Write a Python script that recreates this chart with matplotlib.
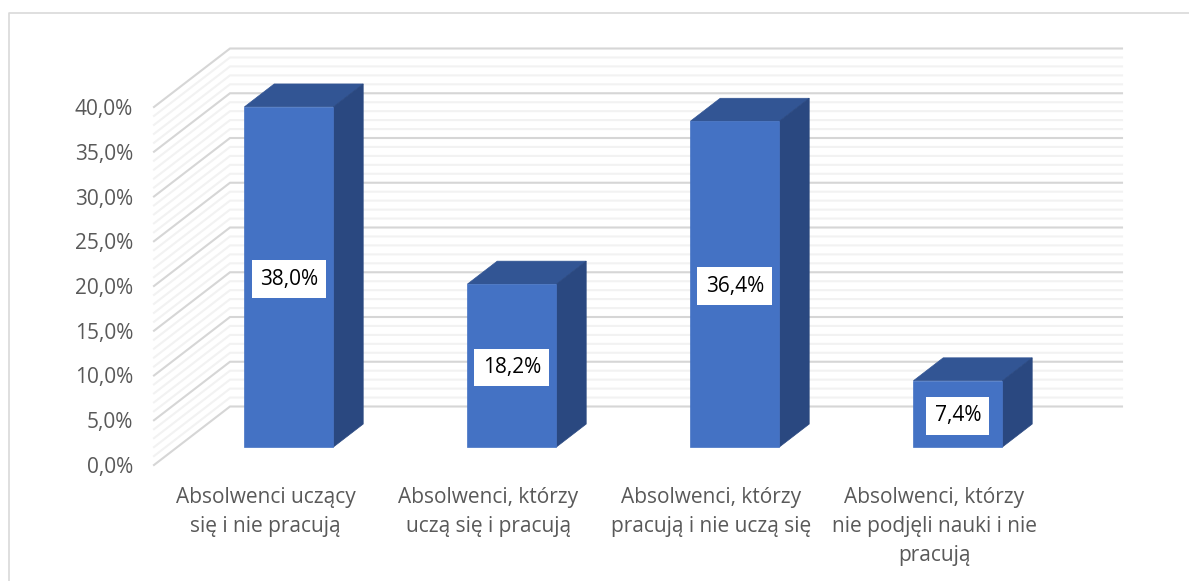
import matplotlib
matplotlib.use("Agg")
from matplotlib import pyplot as plt
from matplotlib.lines import Line2D

categories = [
    "Absolwenci uczący\nsię i nie pracują",
    "Absolwenci, którzy\nuczą się i pracują",
    "Absolwenci, którzy\npracują i nie uczą się",
    "Absolwenci, którzy\nnie podjęli nauki i nie\npracują",
]
values = [38.0, 18.2, 36.4, 7.4]
value_labels = ["38,0%", "18,2%", "36,4%", "7,4%"]
major_ticks = [0, 5, 10, 15, 20, 25, 30, 35, 40]
major_labels = ["0,0%", "5,0%", "10,0%", "15,0%", "20,0%", "25,0%", "30,0%", "35,0%", "40,0%"]
minor_ticks = [v for v in range(0, 41) if v % 5 != 0]

TEXT = "#595959"
FRONT = "#4472C4"
TOP = "#325594"
SIDE = "#2A4880"

W, H = 1189, 581
# full depth of the floor in data units (76 px right, 58.5 px up)
DEPTH_X = 76 / 223
DEPTH_Y = 58.5 / 8.95
BAR_WIDTH = 89 / 223
D0, D1 = 0.308, 0.70


def project(x, v, d):
    return x + d * DEPTH_X, v + d * DEPTH_Y


def face(ax, corners, color, z):
    pts = [project(*c) for c in corners]
    ax.fill([p[0] for p in pts], [p[1] for p in pts], color=color, lw=0.5,
            zorder=z, clip_on=False)


fig = plt.figure(figsize=(W / 100, H / 100), dpi=100)
plt.rcParams["font.family"] = ["Open Sans", "DejaVu Sans"]
ax = fig.add_axes([154 / W, (H - 465) / H, 892 / W, 358 / H])
ax.set_xlim(-0.5, 3.5)
ax.set_ylim(0, 40)
ax.patch.set_visible(False)
for s in ax.spines.values():
    s.set_visible(False)

# walls
for ticks, color, lw, z in [(minor_ticks, "#F2F2F2", 1.5, 1), (major_ticks, "#D6D6D6", 1.5, 2)]:
    for v in ticks:
        x0, y0 = project(-0.5, v, 0)
        x1, y1 = project(-0.5, v, 1)
        x2, y2 = project(3.5, v, 1)
        ax.plot([x0, x1, x2], [y0, y1, y2], color=color, lw=lw, zorder=z, clip_on=False,
                solid_joinstyle="miter")

# bars
for i, v in enumerate(values):
    l = i - BAR_WIDTH / 2
    r = l + BAR_WIDTH
    face(ax, [(l, v, D0), (r, v, D0), (r, v, D1), (l, v, D1)], TOP, 3 + i)
    face(ax, [(r, 0, D0), (r, v, D0), (r, v, D1), (r, 0, D1)], SIDE, 3 + i)
    face(ax, [(l, 0, D0), (r, 0, D0), (r, v, D0), (l, v, D0)], FRONT, 3 + i)
    ax.annotate(value_labels[i], project(i, v / 2, D0), xytext=(0, -1.5), textcoords="offset points",
                ha="center", va="center", fontsize=15, color="black",
                zorder=10, bbox=dict(facecolor="white", edgecolor="none", pad=6))

ax.set_yticks(major_ticks, major_labels, fontsize=15, color=TEXT)
ax.set_xticks(range(4), categories, fontsize=15, color=TEXT, linespacing=1.5)
ax.tick_params(length=0)
ax.tick_params(axis="y", pad=15)
ax.tick_params(axis="x", pad=16)

# chart border
fig.add_artist(Line2D([8.5 / W, 8.5 / W, 1], [0, (H - 12.5) / H, (H - 12.5) / H], color="#D9D9D9", lw=1.2))

plt.savefig("out.png", dpi=100)
